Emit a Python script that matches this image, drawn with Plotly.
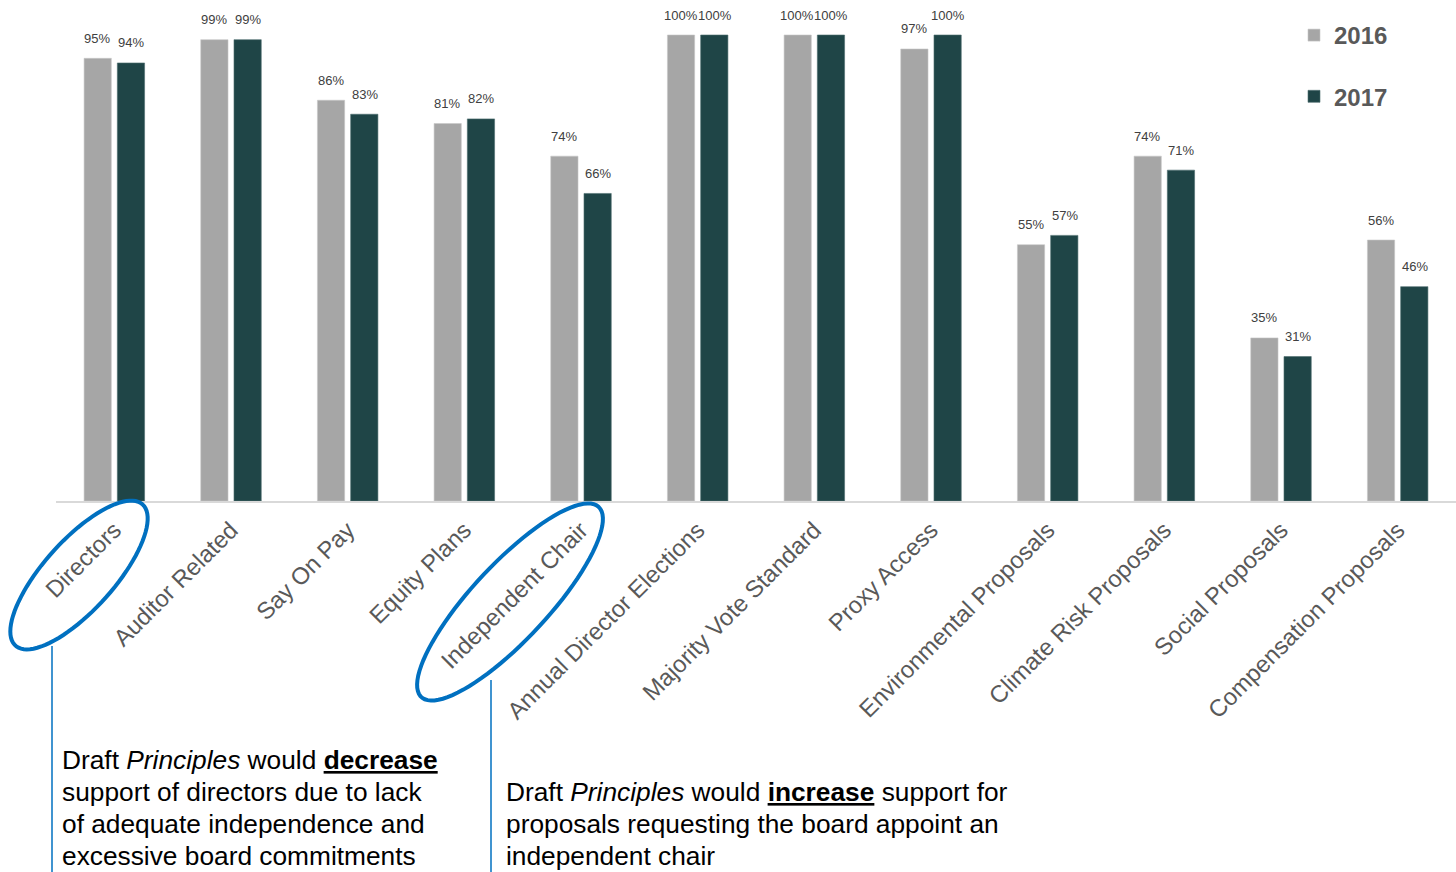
import numpy as np
import plotly.graph_objects as go

categories = ["Directors", "Auditor Related", "Say On Pay", "Equity Plans",
              "Independent Chair", "Annual Director Elections", "Majority Vote Standard",
              "Proxy Access", "Environmental Proposals", "Climate Risk Proposals",
              "Social Proposals", "Compensation Proposals"]
vals_2016 = [95, 99, 86, 81, 74, 100, 100, 97, 55, 74, 35, 56]
vals_2017 = [94, 99, 83, 82, 66, 100, 100, 100, 57, 71, 31, 46]
series_names = ["2016", "2017"]

note1_lines = ["Draft <i>Principles</i> would <b><u>decrease</u></b>",
               "support of directors due to lack",
               "of adequate independence and",
               "excessive board commitments"]
note2_lines = ["Draft <i>Principles</i> would <b><u>increase</u></b> support for",
               "proposals requesting the board appoint an",
               "independent chair"]

C16 = "#A6A6A6"
C17 = "#1F4547"
BLUE = "#0070C0"
FONT = "Liberation Sans, Arial, sans-serif"

W, H = 1456, 872
ML, MR, MT, MB = 56, 0, 0, 371
PW, PH = W - ML - MR, H - MT - MB


def px2paper(x, y):
    return (x - ML) / PW, (H - MB - y) / PH


fig = go.Figure()
fig.add_trace(go.Bar(x=categories, y=[v / 100 for v in vals_2016], name=series_names[0],
                     marker=dict(color=C16, line=dict(color="#C8C8C8", width=0.6)),
                     legendgroup="a", hoverinfo="skip"))
fig.add_trace(go.Bar(x=categories, y=[v / 100 for v in vals_2017], name=series_names[1],
                     marker=dict(color=C17, line=dict(color="#4F6F70", width=0.6)),
                     legendgroup="b", hoverinfo="skip"))

annotations = []
for vals, shift in ((vals_2016, -17), (vals_2017, 17)):
    for c, v in zip(categories, vals):
        annotations.append(dict(x=c, y=v / 100, xref="x", yref="y", text=f"{v}%",
                                showarrow=False, xshift=shift, yshift=20,
                                font=dict(size=13, color="#404040", family=FONT)))

shapes = []


def ellipse_path(cx, cy, a, b, theta_deg, n=90):
    t = np.linspace(0, 2 * np.pi, n)
    th = np.deg2rad(theta_deg)
    xs = cx + a * np.cos(t) * np.cos(th) - b * np.sin(t) * np.sin(th)
    ys = cy - (a * np.cos(t) * np.sin(th) + b * np.sin(t) * np.cos(th))
    pts = [px2paper(x, y) for x, y in zip(xs, ys)]
    return "M " + " L ".join(f"{p[0]:.5f},{p[1]:.5f}" for p in pts) + " Z"


for (cx, cy, a, b, th) in [(79, 575, 95, 35, 48), (510, 602, 130, 38, 47)]:
    shapes.append(dict(type="path", xref="paper", yref="paper",
                       path=ellipse_path(cx, cy, a, b, th),
                       line=dict(color=BLUE, width=4)))

for (x, y0, y1) in [(52, 646, 872), (491, 680, 872)]:
    p0 = px2paper(x, y0)
    p1 = px2paper(x, y1)
    shapes.append(dict(type="line", xref="paper", yref="paper", x0=p0[0], y0=p0[1],
                       x1=p1[0], y1=p1[1], line=dict(color=BLUE, width=1.5)))

txt_font = dict(size=26.3, color="#000000", family=FONT)
for lines, x0, y0 in ((note1_lines, 60, 760), (note2_lines, 504, 792)):
    for i, line in enumerate(lines):
        p = px2paper(x0, y0 + 32 * i)
        annotations.append(dict(xref="paper", yref="paper", x=p[0], y=p[1],
                                xanchor="left", yanchor="middle", align="left",
                                showarrow=False, font=txt_font, text=line))

lx, ly = px2paper(1294, 13)
fig.update_layout(
    width=W, height=H,
    margin=dict(l=ML, r=MR, t=MT, b=MB, pad=0),
    paper_bgcolor="white", plot_bgcolor="white",
    barmode="group", bargap=0.43, bargroupgap=0.18,
    font=dict(family=FONT, color="#595959"),
    xaxis=dict(tickangle=-45, tickfont=dict(size=23.8, color="#595959"),
               showline=True, linecolor="#D9D9D9", linewidth=1.5, ticks="",
               ticklabelstandoff=4,
               showgrid=False, zeroline=False, automargin=False),
    yaxis=dict(range=[0, 501 / 466], visible=False, showgrid=False, zeroline=False),
    showlegend=True,
    legend=dict(x=lx, y=ly, xanchor="left", yanchor="top",
                font=dict(size=24, color="#595959", family=FONT, weight="bold"),
                tracegroupgap=27, itemwidth=30, bgcolor="rgba(0,0,0,0)"),
    annotations=annotations, shapes=shapes,
)

fig.write_html("out.html")
